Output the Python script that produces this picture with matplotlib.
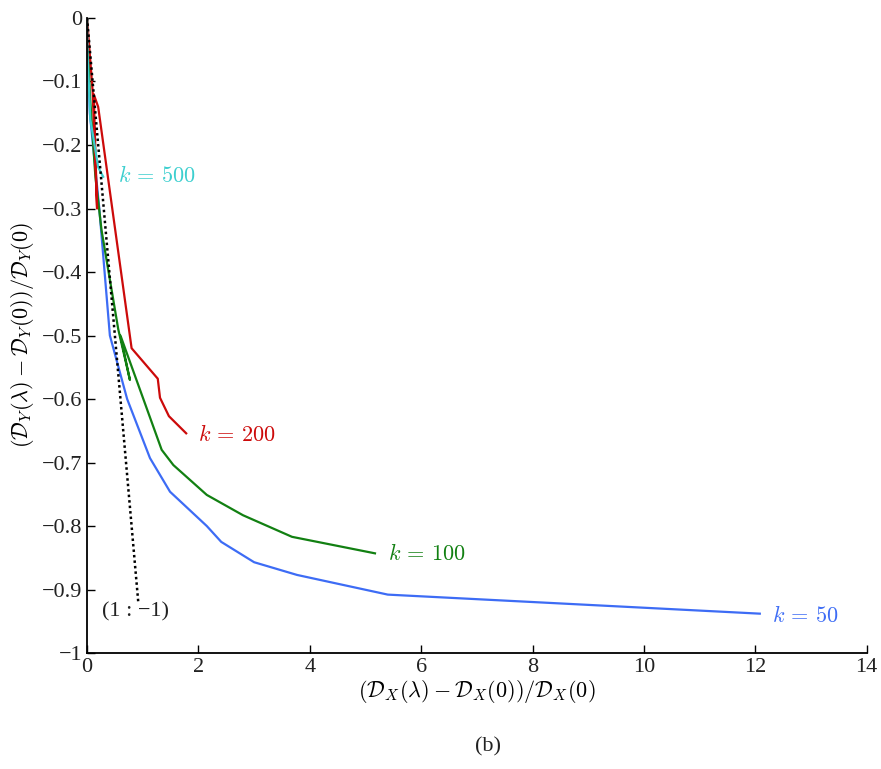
import matplotlib
matplotlib.use("Agg")
import matplotlib.pyplot as plt
from matplotlib.ticker import FuncFormatter

plt.rcParams['font.family'] = ['Liberation Serif', 'DejaVu Serif']
plt.rcParams['mathtext.fontset'] = 'cm'

# k = 50 (blue)
x50 = [0, 0.05, 0.22, 0.41, 0.72, 1.13, 1.49, 2.15, 2.41, 3.0, 3.77, 5.4, 12.08]
y50 = [0, -0.15, -0.30, -0.50, -0.60, -0.693, -0.746, -0.80, -0.825, -0.857, -0.877, -0.908, -0.938]
# k = 100 (green)
x100 = [0, 0.05, 0.15, 0.26, 0.56, 0.77, 0.6, 1.34, 1.55, 2.15, 2.8, 3.68, 5.17]
y100 = [0, -0.12, -0.25, -0.334, -0.49, -0.57, -0.50, -0.68, -0.704, -0.751, -0.783, -0.817, -0.843]
# k = 200 (red)
x200 = [0, 0.1, 0.18, 0.12, 0.2, 0.8, 1.27, 1.31, 1.47, 1.78]
y200 = [0, -0.115, -0.30, -0.12, -0.14, -0.52, -0.568, -0.598, -0.627, -0.654]
# k = 500 (cyan)
x500 = [0, 0.01, 0.06, 0.2, 0.29]
y500 = [0, -0.06, -0.16, -0.235, -0.25]
# reference line (1 : -1)
xref = [0, 0.92]
yref = [0, -0.92]

fig = plt.figure(figsize=(8.81, 7.69), dpi=100)
ax = fig.add_axes([0.0988, 0.1508, 0.885, 0.8258])

ax.plot(x50, y50, color='#3d6cf5', lw=1.6)
ax.plot(x100, y100, color='#128012', lw=1.6)
ax.plot(x200, y200, color='#cc0a0a', lw=1.6)
ax.plot(x500, y500, color='#3ccfcf', lw=1.6)
ax.plot(xref, yref, color='black', lw=1.8, linestyle=(0, (1, 1.2)))

fs = 16
ax.text(0.55, -0.25, r'$k\,=\,500$', color='#3ccfcf', fontsize=fs, va='center')
ax.text(2.0, -0.658, r'$k\,=\,200$', color='#cc0a0a', fontsize=fs, va='center')
ax.text(5.4, -0.845, r'$k\,=\,100$', color='#128012', fontsize=fs, va='center')
ax.text(12.3, -0.943, r'$k\,=\,50$', color='#3d6cf5', fontsize=fs, va='center')
ax.text(0.27, -0.935, '(1 : \u22121)', color='#222222', fontsize=16, va='center')

ax.set_xlim(0, 14)
ax.set_ylim(-1, 0)
ax.set_xticks(range(0, 15, 2))
ax.set_yticks([-1, -0.9, -0.8, -0.7, -0.6, -0.5, -0.4, -0.3, -0.2, -0.1, 0])

def yfmt(v, pos):
    if abs(v) < 1e-9:
        return '0'
    if abs(v + 1) < 1e-9:
        return '\u22121'
    return '\u2212' + ('%.1f' % abs(v))
ax.yaxis.set_major_formatter(FuncFormatter(yfmt))

ax.tick_params(direction='in', length=6, width=1, labelsize=16, labelcolor='#222222', color='black')
for s in ['top', 'right']:
    ax.spines[s].set_visible(False)
for s in ['left', 'bottom']:
    ax.spines[s].set_linewidth(1.3)

ax.set_xlabel(r'$(\mathcal{D}_X(\lambda) - \mathcal{D}_X(0))/\mathcal{D}_X(0)$', fontsize=16, labelpad=1)
ax.set_ylabel(r'$(\mathcal{D}_Y(\lambda) - \mathcal{D}_Y(0))/\mathcal{D}_Y(0)$', fontsize=16, labelpad=4)

fig.text(0.554, 0.029, '(b)', fontsize=16, ha='center', va='center', color='#222222')

fig.savefig('out.png', dpi=100)
